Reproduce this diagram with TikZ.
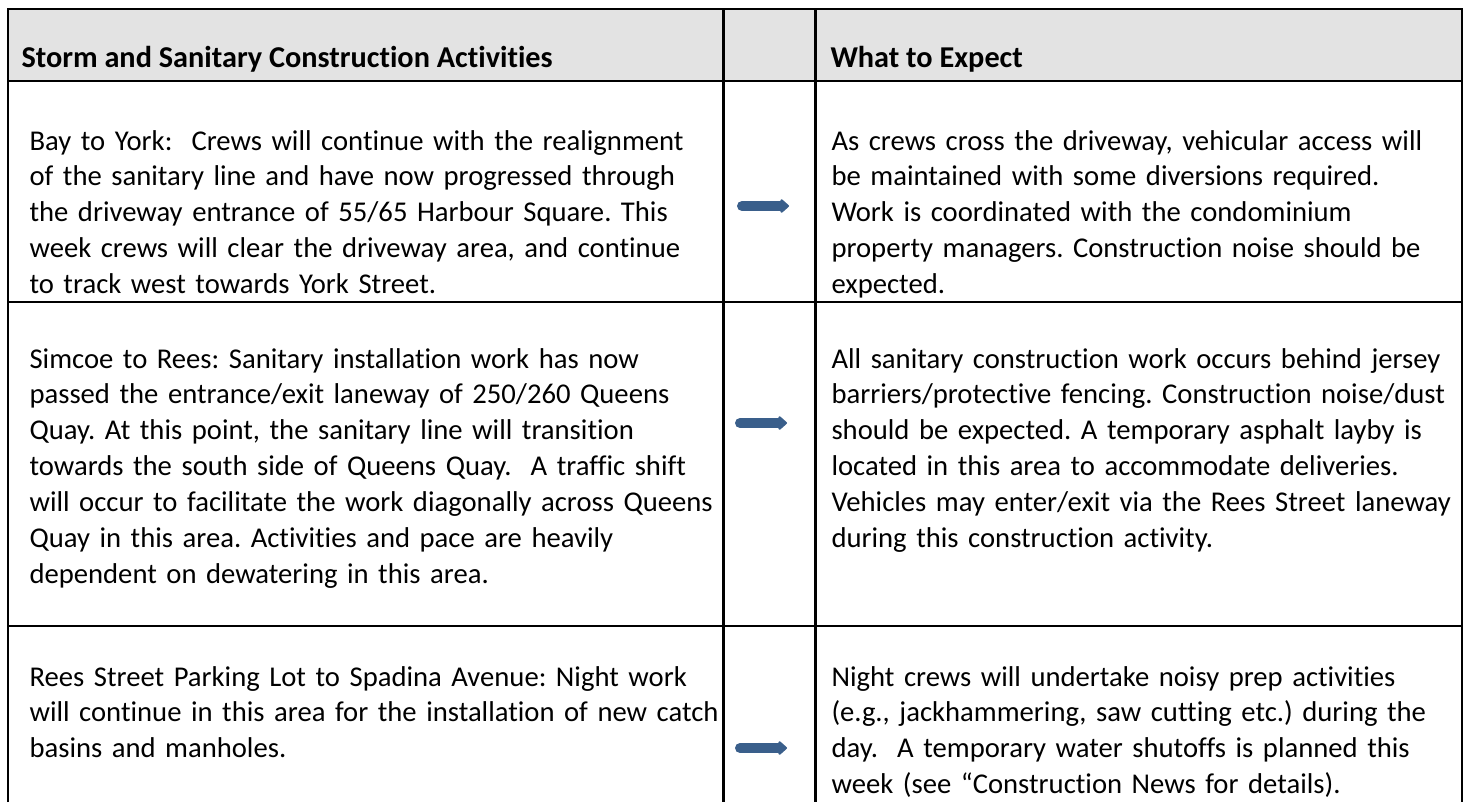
\documentclass[tikz,border=0pt]{standalone}
\usepackage{fontspec}
\setmainfont{Carlito}[Ligatures=NoCommon]
\usepackage{tikz}
\usetikzlibrary{arrows.meta}
\definecolor{headergray}{RGB}{227,227,227}
\definecolor{arrowblue}{RGB}{58,95,139}
\frenchspacing

\begin{document}
\begin{tikzpicture}[
    x=0.37pt, y=-0.37pt,
    grid/.style={draw=black, line width=0.9pt},
    headtext/.style={anchor=base west, inner sep=0pt, font=\fontsize{11.2}{13.43}\selectfont\bfseries},
    celltext/.style={anchor=base west, inner sep=0pt, text width=290pt, align=left, font=\fontsize{10.6}{13.3}\selectfont},
    pointer/.style={line width=3.7pt, color=arrowblue, line cap=round, -{Triangle[length=3.4pt, width=5.8pt, round]}}
]
    \useasboundingbox (0,0) rectangle (1465,802);

    % Header Row
    \fill[headergray] (8,9) rectangle (1462,81);
    \node[headtext] (acthead) at (21,67) {Storm and Sanitary Construction Activities};
    \node[headtext] (exphead) at (830,67) {What to Expect};

    % Grid
    \draw[grid] (8,802) -- (8,9) -- (1462,9) -- (1462,802);
    \draw[grid] (723.5,9) -- (723.5,802);
    \draw[grid] (815.7,9) -- (815.7,802);
    \draw[grid] (8,81) -- (1462,81);
    \draw[grid] (8,302) -- (1462,302);
    \draw[grid] (8,626) -- (1462,626);

    % Bay to York
    \node[celltext] (baytoyork) at (29,150) {Bay to York:\ \ Crews will continue with the realignment\\
        of the sanitary line and have now progressed through\\
        the driveway entrance of 55/65 Harbour Square. This\\
        week crews will clear the driveway area, and continue\\
        to track west towards York Street.};
    \node[celltext] (baytoyorkexp) at (831,150) {As crews cross the driveway, vehicular access will\\
        be maintained with some diversions required.\\
        Work is coordinated with the condominium\\
        property managers. Construction noise should be\\
        expected.};

    % Simcoe to Rees
    \node[celltext] (simcoe) at (29,368) {Simcoe to Rees: Sanitary installation work has now\\
        passed the entrance/exit laneway of 250/260 Queens\\
        Quay. At this point, the sanitary line will transition\\
        towards the south side of Queens Quay.\ \ A traffic shift\\
        will occur to facilitate the work diagonally across Queens\\
        Quay in this area. Activities and pace are heavily\\
        dependent on dewatering in this area.};
    \node[celltext] (simcoeexp) at (831,368) {All sanitary construction work occurs behind jersey\\
        barriers/protective fencing. Construction noise/dust\\
        should be expected. A temporary asphalt layby is\\
        located in this area to accommodate deliveries.\\
        Vehicles may enter/exit via the Rees Street laneway\\
        during this construction activity.};

    % Rees Street Parking Lot
    \node[celltext] (rees) at (29,686) {Rees Street Parking Lot to Spadina Avenue: Night work\\
        will continue in this area for the installation of new catch\\
        basins and manholes.};
    \node[celltext] (reesexp) at (831,686) {Night crews will undertake noisy prep activities\\
        (e.g., jackhammering, saw cutting etc.) during the\\
        day.\ \ A temporary water shutoffs is planned this\\
        week (see “Construction News for details).};

    % Arrows
    \coordinate (bayfrom) at (742,206);
    \coordinate (bayto) at (789,206);
    \coordinate (simcoefrom) at (740,423);
    \coordinate (simcoeto) at (787,423);
    \coordinate (reesfrom) at (740,748);
    \coordinate (reesto) at (787,748);
    \draw[pointer] (bayfrom) -- (bayto);
    \draw[pointer] (simcoefrom) -- (simcoeto);
    \draw[pointer] (reesfrom) -- (reesto);
\end{tikzpicture}
\end{document}
